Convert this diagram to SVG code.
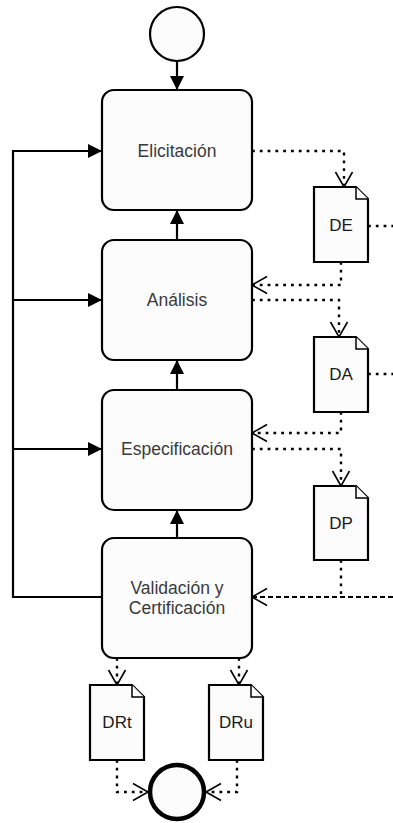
<svg xmlns="http://www.w3.org/2000/svg" width="393" height="823" viewBox="0 0 393 823">
  <style>
    .box { fill: #fcfcfc; stroke: #000; stroke-width: 2.2; }
    .doc { fill: #fcfcfc; stroke: #000; stroke-width: 2.2; stroke-linejoin: miter; }
    .fold { fill: #fcfcfc; stroke: #000; stroke-width: 1.5; }
    .lbl { font-family: "Liberation Sans", Arial, sans-serif; font-size: 17.5px; fill: #3a3a3a; text-anchor: middle; }
    .dlbl { font-family: "Liberation Sans", Arial, sans-serif; font-size: 17px; fill: #1a1a1a; text-anchor: middle; }
    .flow { fill: none; stroke: #000; stroke-width: 2.2; }
    .dot { fill: none; stroke: #000; stroke-width: 2.4; stroke-dasharray: 2.8 5; }
    .dash { fill: none; stroke: #000; stroke-width: 2.2; stroke-dasharray: 5 3; }
  </style>
  <defs>
    <marker id="solid" viewBox="0 0 16 16" refX="14" refY="8" markerWidth="16" markerHeight="16" markerUnits="userSpaceOnUse" orient="auto">
      <path d="M0,1 L14,8 L0,15 Z" fill="#000"/>
    </marker>
    <marker id="open" viewBox="0 0 18 20" refX="16" refY="10" markerWidth="18" markerHeight="20" markerUnits="userSpaceOnUse" orient="auto">
      <path d="M1,1.5 L16,10 L1,18.5" fill="none" stroke="#000" stroke-width="1.6"/>
    </marker>
  </defs>

  <!-- connectors -->
  <g id="connectors">
    <!-- main flow -->
    <line class="flow" x1="177" y1="61" x2="177" y2="90" marker-end="url(#solid)"/>
    <line class="flow" x1="177" y1="240" x2="177" y2="210" marker-end="url(#solid)"/>
    <line class="flow" x1="177" y1="390" x2="177" y2="360" marker-end="url(#solid)"/>
    <line class="flow" x1="177" y1="538" x2="177" y2="510" marker-end="url(#solid)"/>
    <!-- feedback loop from validation -->
    <polyline class="flow" points="102,597 13,597 13,151 102,151" marker-end="url(#solid)"/>
    <line class="flow" x1="13" y1="300" x2="102" y2="300" marker-end="url(#solid)"/>
    <line class="flow" x1="13" y1="449" x2="102" y2="449" marker-end="url(#solid)"/>

    <!-- documents produced -->
    <polyline class="dot" points="252,151 344,151 344,187" marker-end="url(#open)"/>
    <polyline class="dot" points="341,262 341,285 252,285" marker-end="url(#open)"/>
    <line class="dot" x1="368" y1="226" x2="393" y2="226"/>

    <polyline class="dot" points="252,300 339,300 339,337" marker-end="url(#open)"/>
    <polyline class="dot" points="341,412 341,433 252,433" marker-end="url(#open)"/>
    <line class="dot" x1="368" y1="374" x2="393" y2="374"/>

    <polyline class="dot" points="252,449 341,449 341,486" marker-end="url(#open)"/>
    <line class="dot" x1="341" y1="560" x2="341" y2="597"/>
    <line class="dash" x1="393" y1="597" x2="252" y2="597" marker-end="url(#open)"/>

    <line class="dot" x1="117" y1="658" x2="117" y2="685" marker-end="url(#open)"/>
    <line class="dot" x1="239" y1="658" x2="239" y2="685" marker-end="url(#open)"/>
    <polyline class="dot" points="117,760 117,792 148,792" marker-end="url(#open)"/>
    <polyline class="dot" points="237,760 237,792 206,792" marker-end="url(#open)"/>
  </g>

  <!-- start / end events -->
  <g id="start"><circle cx="177" cy="34" r="27" fill="#fcfcfc" stroke="#000" stroke-width="2.2"/></g>
  <g id="end"><circle cx="177" cy="792" r="27" fill="#fcfcfc" stroke="#000" stroke-width="4.5"/></g>

  <!-- activities -->
  <g id="elicitacion">
    <rect class="box" x="102" y="90" width="150" height="120" rx="12"/>
    <text class="lbl" x="177" y="157">Elicitación</text>
  </g>
  <g id="analisis">
    <rect class="box" x="102" y="240" width="150" height="120" rx="12"/>
    <text class="lbl" x="177" y="306">Análisis</text>
  </g>
  <g id="especificacion">
    <rect class="box" x="102" y="390" width="150" height="120" rx="12"/>
    <text class="lbl" x="177" y="455">Especificación</text>
  </g>
  <g id="validacion">
    <rect class="box" x="102" y="538" width="150" height="120" rx="12"/>
    <text class="lbl" x="177" y="594">Validación y</text>
    <text class="lbl" x="177" y="614">Certificación</text>
  </g>

  <!-- documents -->
  <g id="doc-de">
    <path class="doc" d="M314,187 H356 L368,199 V262 H314 Z"/>
    <path class="fold" d="M356,187 V199 H368"/>
    <text class="dlbl" x="341" y="231">DE</text>
  </g>
  <g id="doc-da">
    <path class="doc" d="M314,337 H356 L368,349 V412 H314 Z"/>
    <path class="fold" d="M356,337 V349 H368"/>
    <text class="dlbl" x="341" y="380">DA</text>
  </g>
  <g id="doc-dp">
    <path class="doc" d="M314,486 H356 L368,498 V560 H314 Z"/>
    <path class="fold" d="M356,486 V498 H368"/>
    <text class="dlbl" x="341" y="529">DP</text>
  </g>
  <g id="doc-drt">
    <path class="doc" d="M90,685 H132 L144,697 V760 H90 Z"/>
    <path class="fold" d="M132,685 V697 H144"/>
    <text class="dlbl" x="117" y="728">DRt</text>
  </g>
  <g id="doc-dru">
    <path class="doc" d="M209,685 H251 L263,697 V760 H209 Z"/>
    <path class="fold" d="M251,685 V697 H263"/>
    <text class="dlbl" x="236" y="728">DRu</text>
  </g>
</svg>
